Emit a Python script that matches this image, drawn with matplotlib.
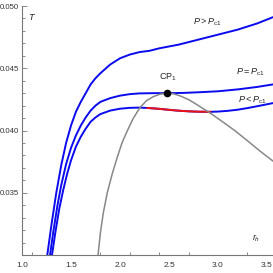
import matplotlib
matplotlib.use("Agg")
import matplotlib.pyplot as plt
import numpy as np

# ---- data ----
upper_r = [1.258, 1.30, 1.35, 1.40, 1.45, 1.50, 1.55, 1.60, 1.65, 1.70, 1.75, 1.80, 1.90, 2.00, 2.10, 2.20, 2.30, 2.40, 2.60, 2.80, 3.00, 3.20, 3.40, 3.56]
upper_T = [0.0300, 0.0324, 0.0350, 0.0372, 0.0390, 0.0404, 0.0415, 0.0423, 0.0430, 0.0437, 0.0442, 0.0446, 0.0453, 0.0458, 0.0461, 0.0463, 0.0464, 0.0466, 0.0469, 0.0473, 0.0477, 0.0481, 0.0486, 0.0491]

crit_r = [1.286, 1.32, 1.36, 1.40, 1.45, 1.50, 1.55, 1.60, 1.65, 1.70, 1.75, 1.80, 1.90, 2.00, 2.10, 2.20, 2.35, 2.50, 2.65, 2.80, 3.00, 3.20, 3.40, 3.56]
crit_T = [0.0300, 0.0319, 0.0339, 0.0356, 0.0373, 0.0386, 0.0396, 0.0404, 0.04105, 0.0416, 0.0420, 0.0423, 0.0426, 0.0428, 0.04292, 0.04298, 0.0430, 0.0430, 0.04302, 0.04307, 0.04315, 0.0433, 0.0435, 0.0437]

lower_r = [1.306, 1.34, 1.38, 1.42, 1.46, 1.50, 1.55, 1.60, 1.65, 1.70, 1.75, 1.80, 1.90, 2.00, 2.10, 2.20, 2.28, 2.40, 2.50, 2.60, 2.70, 2.80, 2.92, 3.00, 3.10, 3.20, 3.30, 3.40, 3.56]
lower_T = [0.0300, 0.0318, 0.0337, 0.0352, 0.0365, 0.0376, 0.0387, 0.0395, 0.04015, 0.0407, 0.04105, 0.04132, 0.0416, 0.04175, 0.04182, 0.04184, 0.04181, 0.04174, 0.04166, 0.04159, 0.04154, 0.04151, 0.0415, 0.04152, 0.04158, 0.04167, 0.0418, 0.04195, 0.0422]
red_from, red_to = 2.28, 2.92

gray_r = [1.776, 1.80, 1.83, 1.87, 1.92, 1.97, 2.02, 2.07, 2.13, 2.20, 2.27, 2.34, 2.41, 2.48, 2.55, 2.62, 2.70, 2.78, 2.86, 2.95, 3.05, 3.17, 3.30, 3.42, 3.56]
gray_T = [0.0300, 0.0318, 0.0334, 0.0350, 0.0365, 0.0378, 0.0390, 0.0399, 0.0409, 0.0418, 0.0424, 0.04272, 0.04292, 0.0430, 0.04294, 0.04276, 0.04248, 0.04210, 0.04170, 0.04124, 0.04068, 0.0400, 0.03918, 0.0384, 0.03755]

cp_r, cp_T = 2.48, 0.0430

x_major = [1.0, 1.5, 2.0, 2.5, 3.0, 3.5]
x_major_labels = ["1.0", "1.5", "2.0", "2.5", "3.0", "3.5"]
x_tickmarks = [1.1, 1.5, 1.8, 2.1, 2.4, 2.7, 3.0, 3.3]
y_major = [0.035, 0.040, 0.045, 0.050]
y_major_labels = ["0.035", "0.040", "0.045", "0.050"]

# ---- figure ----
plt.rcParams['font.family'] = ['Liberation Sans', 'DejaVu Sans']
plt.rcParams['mathtext.fontset'] = 'custom'
plt.rcParams['mathtext.it'] = 'Liberation Sans:italic'
plt.rcParams['mathtext.rm'] = 'Liberation Sans'

fig = plt.figure(figsize=(2.73, 2.73), dpi=100)
ax = fig.add_axes([22/273, 18/273, 251/273, 249/273])
ax.set_xlim(1.0, 3.561)
ax.set_ylim(0.030, 0.050)

blue = '#0a0aee'
ax.plot(upper_r, upper_T, color=blue, lw=1.4)
ax.plot(crit_r, crit_T, color=blue, lw=1.4)
ax.plot(lower_r, lower_T, color=blue, lw=1.4)
lr = np.array(lower_r); lT = np.array(lower_T)
m = (lr >= red_from) & (lr <= red_to)
ax.plot(lr[m], lT[m], color='#ee1111', lw=1.4)
ax.plot(gray_r, gray_T, color='#888888', lw=1.1)
ax.plot([cp_r], [cp_T], 'o', color='black', ms=4.5, zorder=5)

axcol = '#777777'
for s in ['top', 'right']:
    ax.spines[s].set_visible(False)
for s in ['left', 'bottom']:
    ax.spines[s].set_color(axcol)
    ax.spines[s].set_linewidth(0.8)

ax.set_xticks(x_major)
ax.set_xticklabels(x_major_labels)
ax.set_xticks(x_tickmarks, minor=True)
ax.tick_params(axis='x', which='major', length=0, pad=5, labelsize=6, labelcolor='#333333')
ax.tick_params(axis='x', which='minor', length=2.5, direction='in', color=axcol, width=0.6)

ax.set_yticks(y_major)
ax.set_yticklabels(y_major_labels)
ax.set_yticks(np.arange(0.031, 0.0501, 0.001), minor=True)
ax.tick_params(axis='y', which='major', length=3.5, direction='in', color=axcol, width=0.6, pad=2, labelsize=5.6, labelcolor='#333333')
ax.tick_params(axis='y', which='minor', length=2, direction='in', color=axcol, width=0.6)

tc = '#222222'
ax.text(1.10, 0.0491, r'$T$', fontsize=6.5, color=tc, ha='center', va='center')
ax.text(3.39, 0.03137, r'$r_h$', fontsize=6.5, color=tc, ha='center', va='center')
ax.text(2.89, 0.0487, r'$P>P_{\rm c1}$', fontsize=6.5, color=tc, ha='center', va='center')
ax.text(3.33, 0.0447, r'$P=P_{\rm c1}$', fontsize=6.5, color=tc, ha='center', va='center')
ax.text(3.35, 0.0424, r'$P<P_{\rm c1}$', fontsize=6.5, color=tc, ha='center', va='center')
ax.text(2.49, 0.0443, r'CP$_1$', fontsize=6.5, color=tc, ha='center', va='center')

fig.savefig('out.png', dpi=100)
